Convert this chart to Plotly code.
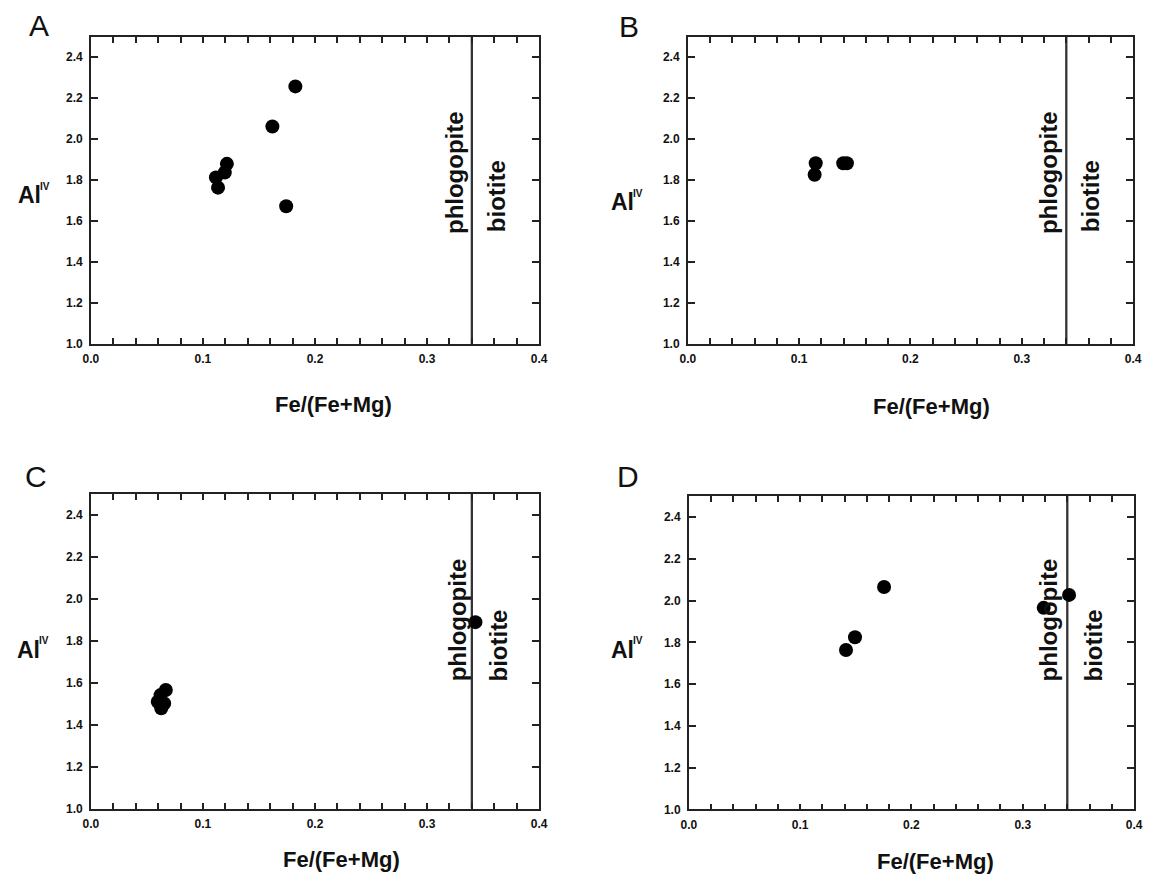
import plotly.graph_objects as go

# ---------------- data ----------------
panel_labels = ["A", "B", "C", "D"]

A_x = [0.1825, 0.1620, 0.1214, 0.1195, 0.1116, 0.1135, 0.1743]
A_y = [2.258, 2.062, 1.880, 1.838, 1.814, 1.764, 1.673]

B_x = [0.1149, 0.1139, 0.1396, 0.1429]
B_y = [1.883, 1.827, 1.883, 1.883]

C_x = [0.3432, 0.0669, 0.0622, 0.0597, 0.0654, 0.0628]
C_y = [1.889, 1.565, 1.541, 1.509, 1.501, 1.478]

D_x = [0.1754, 0.1493, 0.1412, 0.3188, 0.3416]
D_y = [2.065, 1.824, 1.763, 1.965, 2.027]

boundary_x = 0.34          # phlogopite / biotite divide
x_range = [0.0, 0.4]
y_range = [1.0, 2.5]
x_title = "Fe/(Fe+Mg)"
y_title = "Al"
y_title_sup = "IV"
field_left = "phlogopite"
field_right = "biotite"

series_x = [A_x, B_x, C_x, D_x]
series_y = [A_y, B_y, C_y, D_y]

# ---------------- layout geometry (page pixels, 1156x886 window) ----------------
PAGE_W, PAGE_H = 1156, 886
OFF = 8                      # default body margin of the html page
W, H = PAGE_W - 2 * OFF, PAGE_H - 2 * OFF

# plot frames: left, right, top, bottom
frames = [(84, 539, 37, 347), (690, 1142, 37, 347),
          (84, 539, 498, 815), (691, 1143, 500, 816)]
letter_pos = [(31, 26), (630, 27), (28, 480), (629, 480)]
ytitle_pos = [(22, 197), (624, 204), (21, 655), (624, 655)]
sup_pos = [(37, 188), (639, 195), (36, 646), (639, 646)]
xtitle_pos = [(330, 408), (937, 410), (338, 866), (941, 868)]
# centres of rotated field labels
phl_pos = [(453, 174), (1056, 174), (456, 625), (1056, 625)]
bio_pos = [(496, 198), (1099, 198), (498, 651), (1102, 651)]

FONT = "Liberation Sans, Arial, sans-serif"


def fx(p):
    return (p - OFF) / W


def fy(p):
    return 1 - (p - OFF) / H


fig = go.Figure()
annotations = []

for i in range(4):
    sfx = "" if i == 0 else str(i + 1)
    xa, ya = "x" + sfx, "y" + sfx
    l, r, t, b = frames[i]

    # boundary line
    fig.add_trace(go.Scatter(
        x=[boundary_x, boundary_x], y=y_range, mode="lines",
        line=dict(color="#333333", width=2.3), xaxis=xa, yaxis=ya,
        showlegend=False, hoverinfo="skip"))
    # points
    fig.add_trace(go.Scatter(
        x=series_x[i], y=series_y[i], mode="markers",
        marker=dict(color="black", size=14, line=dict(width=0)),
        xaxis=xa, yaxis=ya, showlegend=False))

    axis_common = dict(
        showline=True, linecolor="#222222", linewidth=1.6, mirror="allticks",
        ticks="inside", tickcolor="#222222", tickwidth=1.5,
        showgrid=False, zeroline=False,
        tickfont=dict(family=FONT, size=12, color="#111111", weight="bold"),
    )
    fig.layout["xaxis" + sfx] = dict(
        axis_common, domain=[fx(l), fx(r)], range=x_range, anchor=ya,
        tick0=0, dtick=0.1, tickformat=".1f", ticklen=6,
        minor=dict(dtick=0.02, ticks="inside", ticklen=6, tickcolor="#222222",
                   tickwidth=1.5, showgrid=False),
        ticklabelstandoff=3)
    fig.layout["yaxis" + sfx] = dict(
        axis_common, domain=[fy(b), fy(t)], range=y_range, anchor=xa,
        tick0=1.0, dtick=0.2, tickformat=".1f", ticklen=7,
        ticklabelstandoff=4)

    lx, ly = letter_pos[i]
    annotations.append(dict(
        text=panel_labels[i], x=fx(lx), y=fy(ly), xref="paper", yref="paper",
        showarrow=False, xanchor="center", yanchor="middle",
        font=dict(family=FONT, size=30, color="#111111")))
    tx, ty = ytitle_pos[i]
    annotations.append(dict(
        text="<b>" + y_title + "</b>",
        x=fx(tx), y=fy(ty), xref="paper", yref="paper",
        showarrow=False, xanchor="center", yanchor="middle",
        font=dict(family=FONT, size=23, color="#111111")))
    sx, sy = sup_pos[i]
    annotations.append(dict(
        text="<b>" + y_title_sup + "</b>",
        x=fx(sx), y=fy(sy), xref="paper", yref="paper",
        showarrow=False, xanchor="center", yanchor="middle",
        font=dict(family=FONT, size=10, color="#111111")))
    tx, ty = xtitle_pos[i]
    annotations.append(dict(
        text="<b>" + x_title + "</b>", x=fx(tx), y=fy(ty),
        xref="paper", yref="paper", showarrow=False,
        xanchor="center", yanchor="middle",
        font=dict(family=FONT, size=22, color="#111111")))
    for txt, (px, py) in ((field_left, phl_pos[i]), (field_right, bio_pos[i])):
        annotations.append(dict(
            text="<b>" + txt + "</b>", x=fx(px), y=fy(py),
            xref="paper", yref="paper", showarrow=False, textangle=-90,
            xanchor="center", yanchor="middle",
            font=dict(family=FONT, size=24, color="#111111")))

fig.update_layout(
    width=W, height=H, margin=dict(l=0, r=0, t=0, b=0),
    paper_bgcolor="white", plot_bgcolor="white",
    showlegend=False, annotations=annotations)

fig.write_html("out.html")
